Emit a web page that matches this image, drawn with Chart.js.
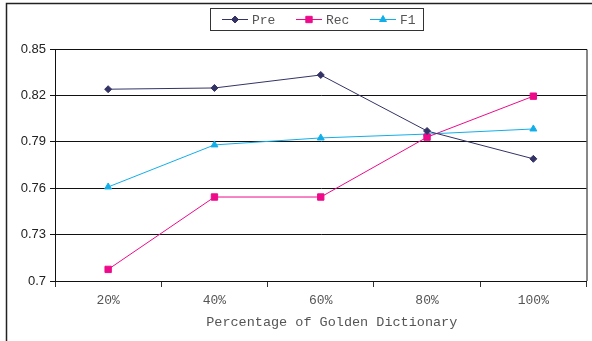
<!DOCTYPE html>
<html>
<head>
<meta charset="utf-8">
<script src="https://cdn.jsdelivr.net/npm/chart.js@4/dist/chart.umd.min.js"></script>
<style>
  html, body { margin: 0; padding: 0; background: #fff; }
  #wrap { width: 592px; height: 341px; position: relative; }
</style>
</head>
<body>
<div id="wrap"><canvas id="c" width="592" height="341"></canvas></div>
<script>
// Categories and series
const categories = ['20%', '40%', '60%', '80%', '100%'];
const preValues = [0.824, 0.8248, 0.8332, 0.797, 0.779];
const recValues = [0.7075, 0.7543, 0.7543, 0.793, 0.8195];
const f1Values  = [0.7608, 0.788, 0.7925, 0.795, 0.7983];
const yTicks = [0.7, 0.73, 0.76, 0.79, 0.82, 0.85];
const xTitle = 'Percentage of Golden Dictionary';

const seriesNames = ['Pre', 'Rec', 'F1'];
const seriesColors = ['#333366', '#ee0a8a', '#12aeea'];
const seriesPoints = ['rectRot', 'rect', 'triangle'];
const seriesRadius = [3.5, 4.5, 4];

const monoFont = "'Liberation Mono', 'DejaVu Sans Mono', monospace";
const sansFont = "'Liberation Sans', Arial, sans-serif";

// Outer frame, plot box, x-axis title and the line+marker legend
const framePlugin = {
  id: 'frame',
  beforeDraw(chart) {
    const ctx = chart.ctx;
    ctx.save();
    ctx.strokeStyle = '#222';
    ctx.lineWidth = 1.5;
    ctx.beginPath();
    ctx.moveTo(6.5, 400);
    ctx.lineTo(6.5, 3.5);
    ctx.lineTo(600, 3.5);
    ctx.stroke();
    ctx.restore();
  },
  afterDatasetsDraw(chart) {
    const ctx = chart.ctx;
    const a = chart.chartArea;
    ctx.save();
    ctx.strokeStyle = '#111';
    ctx.lineWidth = 1;
    ctx.beginPath();
    ctx.moveTo(a.left, a.top + 0.5);
    ctx.lineTo(a.right + 0.5, a.top + 0.5);
    ctx.lineTo(a.right + 0.5, a.bottom);
    ctx.stroke();
    ctx.restore();
  },
  afterDraw(chart) {
    const ctx = chart.ctx;
    const a = chart.chartArea;
    ctx.save();
    // axis title, set a little right of the plot centre
    ctx.font = '13.5px ' + monoFont;
    ctx.fillStyle = '#555';
    ctx.textAlign = 'center';
    ctx.textBaseline = 'middle';
    ctx.fillText(xTitle, (a.left + a.right) / 2 + 11, a.bottom + 41);

    const box = { x: 210.5, y: 8.5, w: 213, h: 22 };
    ctx.strokeStyle = '#333';
    ctx.lineWidth = 1;
    ctx.strokeRect(box.x, box.y, box.w, box.h);
    ctx.font = '13px ' + monoFont;
    ctx.textAlign = 'left';
    const cy = box.y + box.h / 2;
    const starts = [222, 296, 370];
    chart.data.datasets.forEach((ds, i) => {
      const x0 = starts[i];
      ctx.strokeStyle = ds.borderColor;
      ctx.lineWidth = 1;
      ctx.beginPath();
      ctx.moveTo(x0, cy);
      ctx.lineTo(x0 + 26, cy);
      ctx.stroke();
      ctx.fillStyle = ds.borderColor;
      Chart.helpers.drawPoint(ctx, {
        pointStyle: ds.pointStyle, radius: ds.pointRadius, borderWidth: 1
      }, x0 + 13, cy);
      ctx.fillStyle = '#555';
      ctx.fillText(ds.label, x0 + 30, cy + 1);
    });
    ctx.restore();
  }
};

const datasets = [preValues, recValues, f1Values].map((vals, i) => ({
  label: seriesNames[i],
  data: vals,
  borderColor: seriesColors[i],
  backgroundColor: seriesColors[i],
  borderWidth: 1,
  pointStyle: seriesPoints[i],
  pointRadius: seriesRadius[i],
  pointBorderWidth: 1,
  tension: 0
}));

new Chart(document.getElementById('c'), {
  type: 'line',
  data: { labels: categories, datasets },
  plugins: [framePlugin],
  options: {
    responsive: false,
    animation: false,
    devicePixelRatio: 1,
    layout: { padding: { left: 6, right: 5, top: 49, bottom: 10 } },
    plugins: { legend: { display: false }, tooltip: { enabled: false } },
    scales: {
      x: {
        offset: true,
        grid: { display: true, drawOnChartArea: false, drawTicks: true, tickLength: 6, color: '#333', offset: true },
        border: { display: true, color: '#111', width: 1 },
        ticks: { color: '#555', font: { family: monoFont, size: 13 }, padding: 6 },
        afterFit: s => { s.height = 50; }
      },
      y: {
        min: 0.7, max: 0.85,
        afterBuildTicks: s => { s.ticks = yTicks.map(v => ({ value: v })); },
        grid: { color: '#111', lineWidth: 1, drawTicks: true, tickLength: 5 },
        border: { display: true, color: '#111', width: 1 },
        ticks: { color: '#222', font: { family: sansFont, size: 13 }, padding: 4,
                 callback: v => String(Math.round(v * 100) / 100) },
        afterFit: s => { s.width = 49; }
      }
    }
  }
});
</script>
</body>
</html>
